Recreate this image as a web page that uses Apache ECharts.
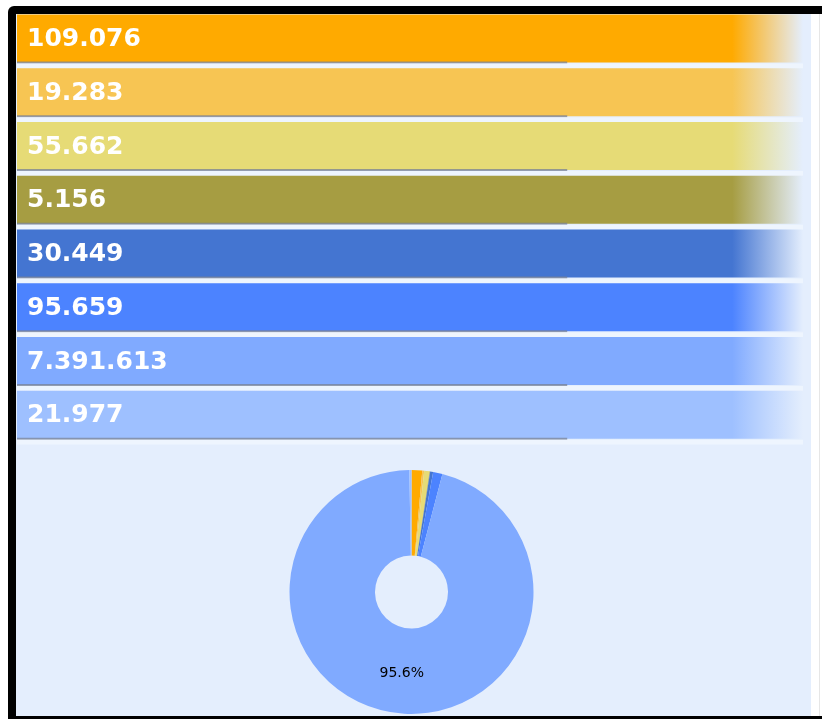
<!DOCTYPE html>
<html>
<head>
<meta charset="utf-8">
<script src="https://cdn.jsdelivr.net/npm/echarts@6/dist/echarts.min.js"></script>
<style>
html,body{margin:0;padding:0;background:#fff;}
#chart{width:822px;height:719px;}
</style>
</head>
<body>
<div id="chart"></div>
<script>
const categories = ['S1', 'S2', 'S3', 'S4', 'S5', 'S6', 'S7', 'S8'];
const values = [109076, 19283, 55662, 5156, 30449, 95659, 7391613, 21977];
const colors = ['#FFAA00', '#F7C553', '#E6DB76', '#A69D42', '#4475D1', '#4C83FF', '#80AAFF', '#9EC0FF'];

function fmt(v) {
  return String(v).replace(/\B(?=(\d{3})+(?!\d))/g, '.');
}
function rgba(hex, a) {
  const n = parseInt(hex.slice(1), 16);
  return 'rgba(' + ((n >> 16) & 255) + ',' + ((n >> 8) & 255) + ',' + (n & 255) + ',' + a + ')';
}

const chart = echarts.init(document.getElementById('chart'), null, {renderer: 'canvas'});
const total = values.reduce((a, b) => a + b, 0);

const option = {
  animation: false,
  graphic: [
    {type: 'rect', z: -10, shape: {x: 8, y: 6, width: 830, height: 730, r: [6, 0, 0, 0]}, style: {fill: '#000'}},
    {type: 'rect', z: -9, shape: {x: 811, y: 14, width: 20, height: 702}, style: {fill: '#fff'}},
    {type: 'rect', z: -9, shape: {x: 819, y: 14, width: 1, height: 702}, style: {fill: '#e6e6e6'}},
    {type: 'rect', z: -8, shape: {x: 16, y: 14, width: 795, height: 702}, style: {fill: '#E4EEFD'}}
  ],
  grid: {left: 17, top: 14.5, width: 786, height: 430},
  xAxis: {type: 'value', min: 0, max: 1, show: false},
  yAxis: {type: 'category', data: categories, inverse: true, show: false},
  series: [
    {
      type: 'custom',
      data: values.map((v, i) => [1, i, v]),
      encode: {x: 0, y: 1},
      renderItem: function (params, api) {
        const i = api.value(1);
        const v = api.value(2);
        const c = colors[i];
        const band = api.size([0, 1])[1];
        const h = band * 0.894;
        const p0 = api.coord([0, i]);
        const p1 = api.coord([api.value(0), i]);
        const pl = api.coord([0.7, i]);
        const top = p0[1] - band / 2;
        return {
          type: 'group',
          children: [
            {
              type: 'rect',
              shape: {x: p0[0], y: top, width: p1[0] - p0[0], height: h},
              style: {
                fill: new echarts.graphic.LinearGradient(0, 0, 1, 0, [
                  {offset: 0, color: c},
                  {offset: 0.91, color: c},
                  {offset: 1, color: rgba(c, 0)}
                ])
              }
            },
            {
              type: 'rect',
              shape: {x: p0[0], y: top + h - 1, width: pl[0] - p0[0], height: 2},
              style: {fill: 'rgba(120,130,150,0.75)'}
            },
            {
              type: 'rect',
              shape: {x: p0[0], y: top + h + 1, width: p1[0] - p0[0], height: band - h - 1},
              style: {fill: 'rgba(240,246,254,0.8)'}
            },
            {
              type: 'text',
              style: {
                text: fmt(v),
                x: p0[0] + 10,
                y: top + h / 2 + 1,
                verticalAlign: 'middle',
                align: 'left',
                fill: '#fff',
                font: 'bold 25px "DejaVu Sans"'
              }
            }
          ]
        };
      }
    },
    {
      type: 'pie',
      center: [411.5, 592],
      radius: [36.5, 122],
      startAngle: 90,
      clockwise: true,
      avoidLabelOverlap: false,
      labelLine: {show: false},
      label: {
        show: true,
        position: 'inside',
        color: '#000',
        fontSize: 14,
        fontFamily: 'DejaVu Sans',
        formatter: function (p) {
          return p.value / total > 0.5 ? (p.value / total * 100).toFixed(1) + '%' : '';
        }
      },
      data: values.map((v, i) => ({name: categories[i], value: v, itemStyle: {color: colors[i]}}))
    }
  ]
};
chart.setOption(option);
</script>
</body>
</html>
